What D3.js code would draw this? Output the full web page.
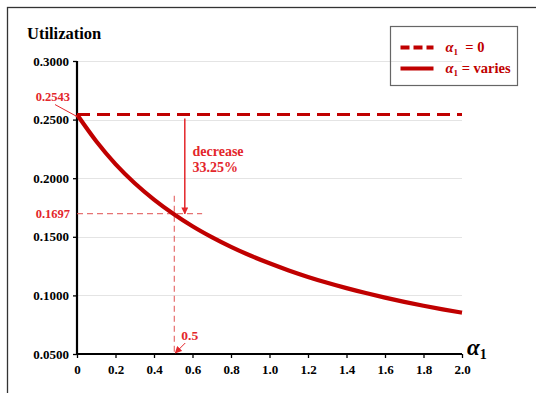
<!DOCTYPE html>
<html>
<head>
<meta charset="utf-8">
<script src="https://cdn.jsdelivr.net/npm/d3@7"></script>
<style>
  body { margin: 0; background: #fff; }
  svg { display: block; }
</style>
</head>
<body>
<div id="chart"></div>
<script>
// alpha_1 values along the x axis
const alpha = [0, 0.1, 0.2, 0.3, 0.4, 0.5, 0.6, 0.7, 0.8, 0.9, 1.0,
               1.1, 1.2, 1.3, 1.4, 1.5, 1.6, 1.7, 1.8, 1.9, 2.0];
// utilization when alpha_1 varies
const utilVaries = [0.2543, 0.2315, 0.2120, 0.1957, 0.1818, 0.1697, 0.1590, 0.1497, 0.1414, 0.1340, 0.1274,
                    0.1213, 0.1158, 0.1108, 0.1062, 0.1020, 0.0981, 0.0945, 0.0912, 0.0881, 0.0853];
// utilization when alpha_1 = 0 (flat)
const alphaZero = [0, 2.0];
const utilZero = [0.2543, 0.2543];

const yTicks = [0.05, 0.10, 0.15, 0.20, 0.25, 0.30];
const xTicks = [0, 0.2, 0.4, 0.6, 0.8, 1.0, 1.2, 1.4, 1.6, 1.8, 2.0];

// annotation values
const startValue = 0.2543;
const markAlpha = 0.5;
const markValue = 0.1697;
const decreaseText = ["decrease", "33.25%"];

const W = 536, H = 393;
const margin = {top: 61, right: 74, bottom: 39, left: 77};
const darkRed = "#c00000";
const annoRed = "#e3262b";
const serif = '"Liberation Serif", "Times New Roman", serif';

const svg = d3.select("#chart").append("svg")
    .attr("width", W)
    .attr("height", H);

// outer frame (runs off right and bottom edge like in the original)
svg.append("rect")
    .attr("x", 7.5).attr("y", 7.5)
    .attr("width", W + 20).attr("height", H + 20)
    .attr("fill", "none")
    .attr("stroke", "#333")
    .attr("stroke-width", 1.3);

const x = d3.scaleLinear().domain([0, 2]).range([margin.left, W - margin.right]);
const y = d3.scaleLinear().domain([0.05, 0.30]).range([H - margin.bottom, margin.top]);

// gridlines
svg.append("g")
  .selectAll("line")
  .data(yTicks.slice(1))
  .join("line")
    .attr("x1", x(0)).attr("x2", x(2))
    .attr("y1", d => Math.round(y(d)) + 0.5)
    .attr("y2", d => Math.round(y(d)) + 0.5)
    .attr("stroke", "#e4e4e4");

// axes
const yAxis = svg.append("g")
    .attr("transform", `translate(${x(0)},0)`)
    .call(d3.axisLeft(y).tickValues(yTicks).tickSize(4).tickPadding(4)
        .tickFormat(d3.format(".4f")));
const xAxis = svg.append("g")
    .attr("transform", `translate(0,${y(0.05)})`)
    .call(d3.axisBottom(x).tickValues(xTicks).tickSize(4).tickPadding(7)
        .tickFormat(d => d === 0 ? "0" : d3.format(".1f")(d)));

[yAxis, xAxis].forEach(a => {
  a.attr("font-size", 13);
  a.select(".domain").attr("stroke", "#000").attr("stroke-width", 2.2);
  a.selectAll(".tick line").attr("stroke", "#000").attr("stroke-width", 1.3);
  a.selectAll(".tick text").attr("fill", "#000");
});
yAxis.select(".domain").attr("d", `M0,${y(0.05)}V${y(0.30)}`);
xAxis.select(".domain").attr("d", `M${x(0)},0H${x(2)}`);

// guide lines at alpha_1 = 0.5
const guide = svg.append("g")
    .attr("stroke", "#e05050")
    .attr("stroke-width", 1)
    .attr("stroke-dasharray", "6,4");
guide.append("line")
    .attr("x1", x(0)).attr("x2", x(0.65))
    .attr("y1", y(markValue)).attr("y2", y(markValue));
guide.append("line")
    .attr("x1", x(markAlpha) + 1).attr("x2", x(markAlpha) + 1)
    .attr("y1", y(0.185)).attr("y2", y(0.05));

// flat line alpha_1 = 0
const line = d3.line().x(d => x(d[0])).y(d => y(d[1]));
svg.append("path")
    .datum(alphaZero.map((a, i) => [a, utilZero[i]]))
    .attr("d", line)
    .attr("fill", "none")
    .attr("stroke", darkRed)
    .attr("stroke-width", 3)
    .attr("stroke-dasharray", "13,7");

// varying curve
svg.append("path")
    .datum(alpha.map((a, i) => [a, utilVaries[i]]))
    .attr("d", line.curve(d3.curveMonotoneX))
    .attr("fill", "none")
    .attr("stroke", darkRed)
    .attr("stroke-width", 4.2);

// arrow marker
svg.append("defs").append("marker")
    .attr("id", "arr")
    .attr("viewBox", "0 0 10 10")
    .attr("refX", 9).attr("refY", 5)
    .attr("markerWidth", 7).attr("markerHeight", 7)
    .attr("markerUnits", "userSpaceOnUse")
    .attr("orient", "auto")
  .append("path")
    .attr("d", "M0,0L10,5L0,10z")
    .attr("fill", annoRed);

// decrease arrow
svg.append("line")
    .attr("x1", x(0.56)).attr("x2", x(0.56))
    .attr("y1", y(startValue) + 4).attr("y2", y(markValue))
    .attr("stroke", annoRed)
    .attr("stroke-width", 1.5)
    .attr("marker-end", "url(#arr)");

svg.append("text")
    .attr("x", x(0.6)).attr("y", y(0.219))
    .attr("fill", annoRed)
    .attr("font-size", 14)
  .selectAll("tspan")
  .data(decreaseText)
  .join("tspan")
    .attr("x", x(0.6))
    .attr("dy", (d, i) => i ? 16 : 0)
    .text(d => d);

// 0.2543 label with leader
svg.append("text")
    .attr("x", 70).attr("y", y(startValue) - 14)
    .attr("text-anchor", "end")
    .attr("fill", annoRed)
    .attr("font-size", 12.5)
    .text(d3.format(".4f")(startValue));
svg.append("line")
    .attr("x1", 55).attr("y1", y(startValue) - 10)
    .attr("x2", x(0)).attr("y2", y(startValue) + 2)
    .attr("stroke", annoRed)
    .attr("stroke-width", 1);

// 0.1697 label
svg.append("text")
    .attr("x", 70).attr("y", y(markValue) + 4)
    .attr("text-anchor", "end")
    .attr("fill", annoRed)
    .attr("font-size", 12.5)
    .text(d3.format(".4f")(markValue));

// 0.5 label with small arrow
svg.append("text")
    .attr("x", x(markAlpha) + 8).attr("y", y(0.05) - 14)
    .attr("fill", annoRed)
    .attr("font-size", 13.5)
    .text(markAlpha);
svg.append("line")
    .attr("x1", x(markAlpha) + 12).attr("y1", y(0.05) - 11)
    .attr("x2", x(markAlpha) + 2).attr("y2", y(0.05) - 1)
    .attr("stroke", annoRed)
    .attr("stroke-width", 1)
    .attr("marker-end", "url(#arr)");

// axis titles
svg.append("text")
    .attr("x", 27).attr("y", 39)
    .attr("font-size", 16.5)
    .attr("fill", "#000")
    .text("Utilization");
const xt = svg.append("text")
    .attr("x", x(2) + 5).attr("y", y(0.05) + 1)
    .attr("font-size", 23)
    .attr("font-style", "italic")
    .attr("fill", "#000");
xt.append("tspan").text("α");
xt.append("tspan").attr("font-size", 14).attr("font-style", "normal").attr("dy", 4).text("1");

// legend
const legend = svg.append("g").attr("transform", "translate(390.5,26.5)");
legend.append("rect")
    .attr("width", 127).attr("height", 59)
    .attr("fill", "none")
    .attr("stroke", "#666")
    .attr("stroke-width", 1.2);
const items = [
  {dash: "9,4", label: "  = 0"},
  {dash: null, label: " = varies"}
];
items.forEach((it, i) => {
  const ly = 21 + i * 21;
  legend.append("line")
      .attr("x1", 10).attr("x2", 43)
      .attr("y1", ly).attr("y2", ly)
      .attr("stroke", darkRed)
      .attr("stroke-width", 4)
      .attr("stroke-dasharray", it.dash);
  const t = legend.append("text")
      .attr("x", 55).attr("y", ly + 4)
      .attr("fill", darkRed)
      .attr("font-size", 14.5);
  t.append("tspan").attr("font-style", "italic").text("α");
  t.append("tspan").attr("font-size", 9).attr("dy", 3).text("1");
  t.append("tspan").attr("dy", -3).style("white-space", "pre").text(it.label);
});

// all text in bold Times-like serif
svg.selectAll("text")
    .style("font-family", serif)
    .style("font-weight", "bold");
</script>
</body>
</html>
